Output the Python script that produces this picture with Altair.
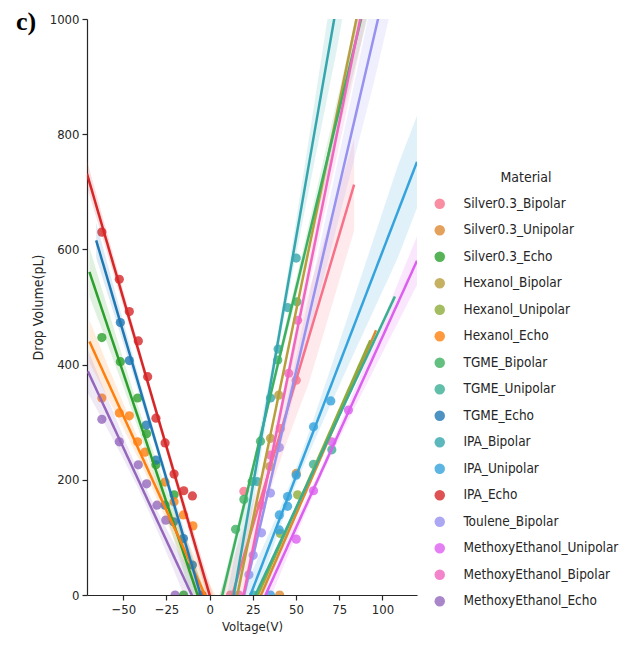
import numpy as np
import pandas as pd
import altair as alt

materials = ["Silver0.3_Bipolar", "Silver0.3_Unipolar", "Silver0.3_Echo",
             "Hexanol_Bipolar", "Hexanol_Unipolar", "Hexanol_Echo",
             "TGME_Bipolar", "TGME_Unipolar", "TGME_Echo",
             "IPA_Bipolar", "IPA_Unipolar", "IPA_Echo",
             "Toulene_Bipolar", "MethoxyEthanol_Unipolar", "MethoxyEthanol_Bipolar",
             "MethoxyEthanol_Echo"]

colors = ["#f77189", "#dc8932", "#2ca02c",
          "#b89e3c", "#8fac3a", "#ff7f0e",
          "#3cb060", "#3aae92", "#1f77b4",
          "#35a6ae", "#35a3dc", "#d62728",
          "#9791f0", "#dc5fef", "#f065be",
          "#9467bd"]

# measured points (Voltage V, Drop volume pL)
volt = {
    "Silver0.3_Bipolar": [12, 19.8, 40.9, 50.1],
    "Silver0.3_Unipolar": [40.5, 50.1],
    "Silver0.3_Echo": [-62.4, -51.7, -41.7, -36.5, -31.1, -20.6, -15.1],
    "Hexanol_Bipolar": [34.8, 35.2, 40.0],
    "Hexanol_Unipolar": [40.9, 50.9],
    "Hexanol_Echo": [-62.4, -52.3, -46.5, -41.7, -37.5, -25.8, -20.6, -15.2, -9.7],
    "TGME_Bipolar": [15.0, 19.8, 24.6, 29.4, 39.4, 50.5],
    "TGME_Unipolar": [25.5, 60.1, 70.7],
    "TGME_Echo": [-51.7, -46.5, -36.7, -31.1, -25.8, -20.9, -15.2, -10.0],
    "IPA_Bipolar": [27.5, 35.2, 39.6, 45.1, 50.1],
    "IPA_Unipolar": [35.2, 40.3, 40.3, 45.1, 45.1, 50.1, 60.1, 70.1],
    "IPA_Echo": [-62.4, -52.3, -46.5, -41.3, -35.9, -31.1, -25.8, -20.6, -15.0, -10.0, -4.4],
    "Toulene_Bipolar": [22.7, 25.2, 30.0, 35.2, 40.3],
    "MethoxyEthanol_Unipolar": [50.1, 60.1, 70.7, 80.3],
    "MethoxyEthanol_Bipolar": [16.9, 29.8, 35.2, 45.7, 50.9],
    "MethoxyEthanol_Echo": [-62.4, -52.3, -41.3, -36.5, -30.5, -25.4, -20.0],
}
vol = {
    "Silver0.3_Bipolar": [0, 180, 289, 373],
    "Silver0.3_Unipolar": [0, 211],
    "Silver0.3_Echo": [447, 405, 342, 280, 226, 174, 0],
    "Hexanol_Bipolar": [223, 272, 347],
    "Hexanol_Unipolar": [107, 174],
    "Hexanol_Echo": [342, 316, 311, 266, 248, 196, 162, 139, 120],
    "TGME_Bipolar": [114, 166, 197, 267, 408, 509],
    "TGME_Unipolar": [0, 227, 252],
    "TGME_Echo": [473, 407, 295, 234, 156, 127, 98, 52],
    "IPA_Bipolar": [197, 342, 427, 499, 585],
    "IPA_Unipolar": [0, 113, 139, 154, 171, 208, 292, 337],
    "IPA_Echo": [630, 548, 492, 441, 379, 307, 264, 210, 181, 172, 0],
    "Toulene_Bipolar": [35, 69, 108, 177, 256],
    "MethoxyEthanol_Unipolar": [97, 181, 266, 321],
    "MethoxyEthanol_Bipolar": [0, 156, 243, 385, 477],
    "MethoxyEthanol_Echo": [305, 266, 226, 193, 156, 130, 0],
}

# regression fit: slope, intercept, and x-range of each fitted line
fit_slope = [10.1, 6.9, -8.96, 14.5, 6.8, -6.58, 12.45, 6.42, -10.18, 17.2, 7.8, -10.3,
             12.9, 6.62, 14.8, -6.46]
fit_intercept = [-132, -205, -62.7, -232, -190, -17.8, -91, -170, -53, -240, -184, 0,
                 -257, -214, -290, -67]
fit_start = [5, 20, -69.6, 10, 20, -69.6, 0, 20, -65.7, 10, 20, -71, 15, 25, 15, -70.5]
fit_end = [83.6, 96.3, 10, 120, 93, 10, 120, 107.2, 10, 120, 120, 10, 120, 120, 120, 10]

pt_rows = []
for m in materials:
    for v, p in zip(volt[m], vol[m]):
        pt_rows.append({"Material": m, "Voltage": v, "Volume": p})
points = pd.DataFrame(pt_rows)

line_rows = []
for i, m in enumerate(materials):
    a, b = fit_slope[i], fit_intercept[i]
    xs = np.array(volt[m], dtype=float)
    ys = np.array(vol[m], dtype=float)
    n = len(xs)
    xm = xs.mean()
    sxx = ((xs - xm) ** 2).sum()
    if n >= 4 and sxx > 0:
        s = np.sqrt(((ys - (a * xs + b)) ** 2).sum() / (n - 2))
    else:
        s = 0.0
    for x in np.linspace(fit_start[i], fit_end[i], 90):
        f = a * x + b
        half = 0.0
        if s > 0:
            half = min(1.0 * s * np.sqrt(1.0 / n + (x - xm) ** 2 / sxx), 80.0)
        line_rows.append({"Material": m, "Voltage": x, "Fit": f, "Lo": f - half, "Hi": f + half})
lines = pd.DataFrame(line_rows)

xscale = alt.Scale(domain=[-71, 120], nice=False, zero=False)
yscale = alt.Scale(domain=[0, 1000], nice=False)
cscale = alt.Scale(domain=materials, range=colors)

band = alt.Chart(lines).mark_area(opacity=0.15, clip=True).encode(
    x=alt.X("Voltage:Q", scale=xscale),
    y=alt.Y("Lo:Q", scale=yscale),
    y2="Hi:Q",
    color=alt.Color("Material:N", scale=cscale, legend=None),
    detail="Material:N",
)

pts = alt.Chart(points).mark_circle(size=85, opacity=0.8, clip=True).encode(
    x=alt.X("Voltage:Q", scale=xscale,
            axis=alt.Axis(title="Voltage(V)", values=[-50, -25, 0, 25, 50, 75, 100], format="d")),
    y=alt.Y("Volume:Q", scale=yscale,
            axis=alt.Axis(title="Drop Volume(pL)", values=[0, 200, 400, 600, 800, 1000], format="d",
                          titleFontSize=14)),
    color=alt.Color("Material:N", scale=cscale, sort=materials,
                    legend=alt.Legend(title="Material", orient="none", legendX=346, legendY=152,
                                      symbolType="circle", symbolSize=110, symbolOpacity=0.8,
                                      symbolStrokeWidth=0, labelFontSize=13.5, titleFontSize=14,
                                      titleFontWeight="normal", titleAnchor="middle",
                                      labelOffset=17, rowPadding=11.5, titlePadding=12,
                                      labelFont="DejaVu Sans Condensed", titleFont="DejaVu Sans Condensed",
                                      labelColor="#262626", titleColor="#262626",
                                      labelLimit=300)),
)

fit = alt.Chart(lines).mark_line(strokeWidth=2.5, clip=True).encode(
    x=alt.X("Voltage:Q", scale=xscale),
    y=alt.Y("Fit:Q", scale=yscale),
    color=alt.Color("Material:N", scale=cscale, legend=None),
    detail="Material:N",
)

chart = alt.layer(pts, band, fit).properties(
    width=330, height=576,
    autosize=alt.AutoSizeParams(type="none"),
    padding={"left": 79, "top": 11, "right": 210, "bottom": 51},
    title=alt.TitleParams("c)", anchor="start", frame="group", dx=-71, dy=26,
                          font="Liberation Serif", fontSize=26, fontWeight="bold", color="black"),
).configure_view(stroke=None).configure_axis(
    grid=False, domainColor="#262626", tickColor="#262626", labelColor="#262626",
    titleColor="#262626", labelFont="DejaVu Sans Condensed", titleFont="DejaVu Sans Condensed",
    labelFontSize=13, titleFontSize=13, titleFontWeight="normal", tickSize=5,
    domainWidth=1.2, tickWidth=1.2, labelPadding=3,
).configure_axisY(titlePadding=4).configure_axisX(titlePadding=4)

chart.save("out.html", embed_options={"renderer": "svg", "actions": False})
